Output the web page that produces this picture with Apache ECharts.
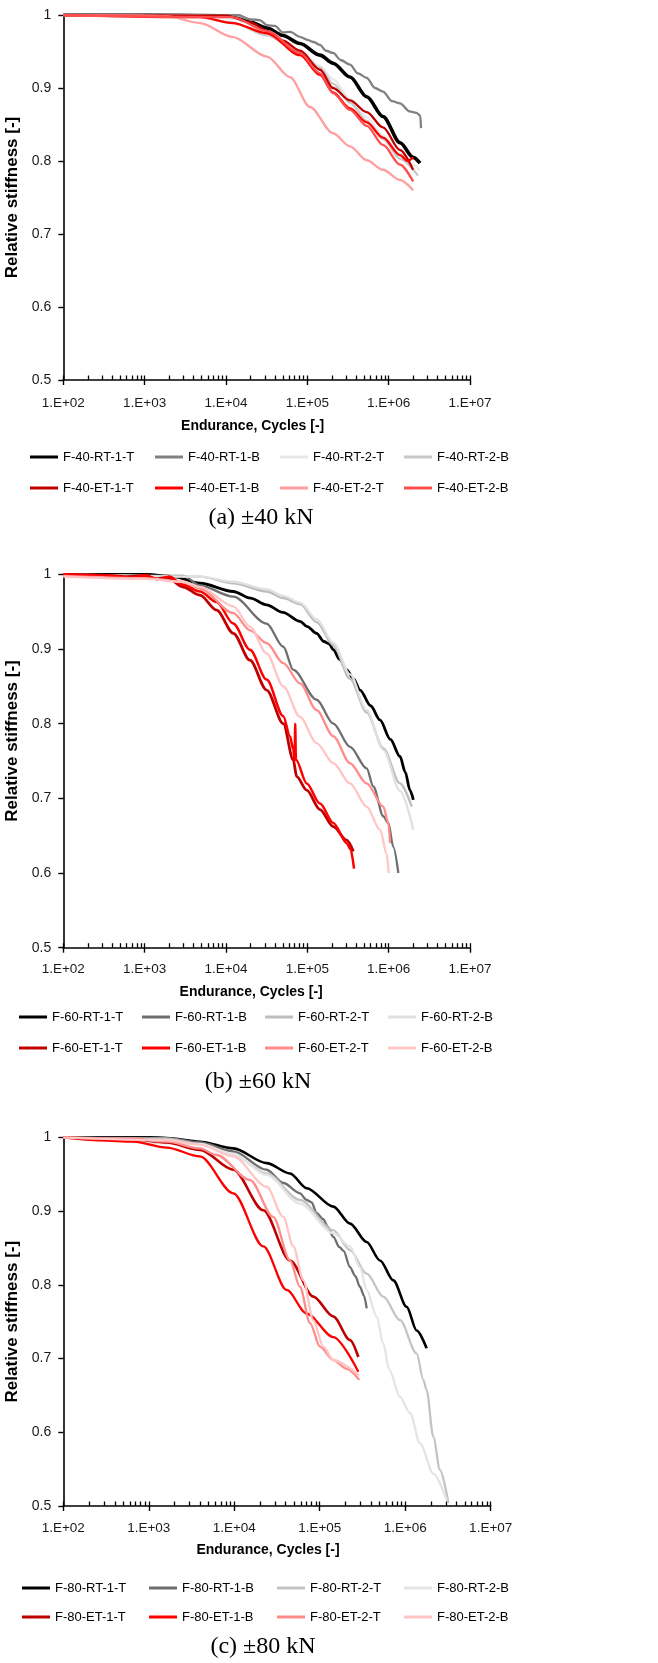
<!DOCTYPE html>
<html>
<head>
<meta charset="utf-8">
<script src="https://cdn.jsdelivr.net/npm/echarts@6/dist/echarts.min.js"></script>
<style>
html, body { margin: 0; padding: 0; background: #ffffff; }
#chart { width: 658px; height: 1663px; }
</style>
</head>
<body>
<div id="chart"></div>
<script>
// ---- axis ticks ----
const xTickValues = [1e2, 1e3, 1e4, 1e5, 1e6, 1e7];
const xTickLabels = ['1.E+02', '1.E+03', '1.E+04', '1.E+05', '1.E+06', '1.E+07'];
const yTickValues = [0.5, 0.6, 0.7, 0.8, 0.9, 1];
const yTickLabels = ['0.5', '0.6', '0.7', '0.8', '0.9', '1'];

// ---- series names ----
const names40 = ['F-40-RT-1-T', 'F-40-RT-1-B', 'F-40-RT-2-T', 'F-40-RT-2-B',
                 'F-40-ET-1-T', 'F-40-ET-1-B', 'F-40-ET-2-T', 'F-40-ET-2-B'];
const names60 = ['F-60-RT-1-T', 'F-60-RT-1-B', 'F-60-RT-2-T', 'F-60-RT-2-B',
                 'F-60-ET-1-T', 'F-60-ET-1-B', 'F-60-ET-2-T', 'F-60-ET-2-B'];
const names80 = ['F-80-RT-1-T', 'F-80-RT-1-B', 'F-80-RT-2-T', 'F-80-RT-2-B',
                 'F-80-ET-1-T', 'F-80-ET-1-B', 'F-80-ET-2-T', 'F-80-ET-2-B'];

// ---- ±40 kN : [cycles, relative stiffness] ----
const f40_RT1T = [[100,1],[1000,1],[8000,0.999],[12000,0.997],[20000,0.99],[32000,0.982],[50000,0.972],[81000,0.961],[143000,0.945],[207000,0.934],[335000,0.915],[537000,0.888],[851000,0.861],[1380000,0.825],[2000000,0.805],[2430000,0.797]];
const f40_RT1B = [[100,1],[14000,1],[20000,0.994],[26000,0.993],[32000,0.986],[40000,0.985],[50000,0.976],[62000,0.977],[81000,0.970],[100000,0.966],[120000,0.963],[143000,0.959],[170000,0.951],[207000,0.948],[260000,0.938],[335000,0.932],[420000,0.920],[537000,0.914],[680000,0.900],[851000,0.895],[1100000,0.882],[1380000,0.879],[1800000,0.868],[2200000,0.866],[2450000,0.862],[2500000,0.845]];
const f40_RT2T = [[100,1],[5000,0.999],[12000,0.995],[32000,0.978],[81000,0.952],[143000,0.93],[207000,0.912],[335000,0.885],[537000,0.86],[851000,0.835],[1380000,0.81],[2000000,0.795],[2400000,0.787]];
const f40_RT2B = [[100,1],[4000,0.998],[12000,0.99],[32000,0.972],[81000,0.948],[143000,0.928],[207000,0.906],[335000,0.88],[537000,0.855],[851000,0.83],[1380000,0.803],[2300000,0.78]];
const f40_ET1T = [[100,1],[10000,0.999],[20000,0.99],[32000,0.978],[50000,0.965],[81000,0.951],[143000,0.925],[207000,0.9],[335000,0.883],[537000,0.867],[851000,0.846],[1380000,0.815],[2000000,0.788]];
const f40_ET1B = [[100,1],[4800,0.997],[12000,0.989],[32000,0.975],[81000,0.945],[143000,0.918],[207000,0.894],[335000,0.872],[537000,0.853],[851000,0.832],[1380000,0.808],[1700000,0.80],[2000000,0.805]];
const f40_ET2T = [[100,1],[1000,0.999],[1900,0.998],[4800,0.989],[12000,0.970],[32000,0.943],[61000,0.915],[108000,0.874],[207000,0.838],[335000,0.820],[537000,0.801],[851000,0.788],[1380000,0.774],[2000000,0.760]];
const f40_ET2B = [[100,1],[12000,0.997],[32000,0.978],[81000,0.948],[143000,0.92],[207000,0.893],[335000,0.87],[537000,0.848],[851000,0.822],[1380000,0.795],[2000000,0.772]];

// ---- ±60 kN ----
const f60_RT1T = [[100,1],[1000,1],[2250,0.997],[4790,0.988],[12300,0.977],[20000,0.968],[31600,0.959],[50000,0.949],[81300,0.937],[100000,0.930],[130000,0.921],[160000,0.910],[185000,0.907],[209000,0.899],[250000,0.886],[305000,0.872],[370000,0.860],[445000,0.845],[600000,0.824],[782000,0.805],[1050000,0.779],[1380000,0.756],[1600000,0.735],[1830000,0.711],[2010000,0.698]];
const f60_RT1B = [[100,1],[2990,0.998],[4790,0.985],[12300,0.970],[31600,0.934],[50700,0.903],[67300,0.872],[130000,0.832],[209000,0.80],[335000,0.769],[537000,0.740],[647000,0.716],[859000,0.676],[991000,0.667],[1140000,0.635],[1315000,0.60]];
const f60_RT2T = [[100,1],[4790,0.997],[12300,0.988],[31600,0.977],[50700,0.968],[81300,0.96],[130000,0.936],[209000,0.905],[335000,0.86],[537000,0.815],[859000,0.767],[1380000,0.72],[1920000,0.689]];
const f60_RT2B = [[100,1],[4790,0.997],[12300,0.99],[31600,0.98],[50700,0.971],[81300,0.962],[130000,0.94],[209000,0.908],[335000,0.866],[537000,0.818],[859000,0.765],[1380000,0.71],[2010000,0.658]];
const f60_ET1T = [[100,1],[300,0.999],[600,0.997],[1000,0.998],[1400,0.994],[1860,0.996],[2990,0.983],[4790,0.972],[7670,0.952],[12300,0.921],[19700,0.885],[31600,0.845],[50700,0.80],[67300,0.751],[74000,0.729],[98200,0.711],[143000,0.685],[209000,0.662],[305000,0.644],[368000,0.629]];
const f60_ET1B = [[100,1],[400,0.998],[700,0.995],[1000,0.999],[1500,0.993],[2000,0.997],[2990,0.986],[4790,0.977],[7670,0.963],[12300,0.934],[19700,0.899],[31600,0.859],[50700,0.81],[61200,0.783],[67300,0.765],[69800,0.75],[71000,0.80],[72300,0.752],[98200,0.72],[143000,0.693],[209000,0.667],[305000,0.64],[340000,0.632],[375000,0.606]];
const f60_ET2T = [[100,0.998],[1000,0.995],[2990,0.99],[4790,0.981],[12300,0.948],[19700,0.925],[31600,0.908],[50700,0.881],[81300,0.854],[130000,0.818],[209000,0.783],[335000,0.747],[537000,0.72],[859000,0.689],[991000,0.667],[1040000,0.64]];
const f60_ET2B = [[100,0.997],[1000,0.994],[2990,0.99],[4790,0.983],[12300,0.957],[19700,0.93],[31600,0.894],[50700,0.85],[81300,0.809],[130000,0.774],[209000,0.747],[335000,0.72],[537000,0.689],[782000,0.658],[950000,0.625],[1000000,0.60]];

// ---- ±80 kN ----
const f80_RT1T = [[100,1],[1020,1],[1620,0.999],[3970,0.994],[9750,0.985],[23900,0.965],[44900,0.951],[70300,0.931],[144000,0.906],[226000,0.883],[354000,0.858],[507000,0.833],[726000,0.806],[1040000,0.770],[1360000,0.738],[1780000,0.714]];
const f80_RT1B = [[100,1],[1620,0.999],[3970,0.993],[9750,0.981],[23900,0.956],[37500,0.938],[58800,0.924],[70000,0.915],[80000,0.912],[92000,0.897],[110000,0.889],[125000,0.878],[144000,0.865],[170000,0.851],[190000,0.846],[226000,0.824],[260000,0.812],[296000,0.797],[330000,0.785],[354000,0.768]];
const f80_RT2T = [[100,1],[1620,0.998],[3970,0.991],[9750,0.976],[23900,0.951],[58800,0.915],[144000,0.874],[226000,0.847],[354000,0.815],[554000,0.784],[869000,0.752],[1360000,0.707],[1630000,0.671],[1780000,0.657],[2130000,0.594],[2550000,0.549],[3200000,0.504]];
const f80_RT2B = [[100,1],[3970,0.991],[9750,0.977],[23900,0.949],[58800,0.91],[144000,0.87],[226000,0.852],[296000,0.824],[354000,0.793],[463000,0.757],[554000,0.72],[650000,0.685],[869000,0.648],[1140000,0.626],[1490000,0.585],[2130000,0.544],[3060000,0.508]];
const f80_ET1T = [[100,1],[659,0.997],[1620,0.993],[3970,0.983],[9750,0.956],[21900,0.901],[44900,0.833],[84100,0.784],[144000,0.757],[226000,0.725],[283000,0.702]];
const f80_ET1B = [[100,1],[269,0.996],[659,0.994],[1620,0.986],[3970,0.974],[9750,0.924],[21900,0.852],[41000,0.793],[70300,0.761],[144000,0.729],[283000,0.682]];
const f80_ET2T = [[100,1],[659,0.998],[1620,0.994],[3970,0.985],[6220,0.976],[15300,0.942],[28600,0.892],[44900,0.833],[58800,0.797],[76900,0.748],[100700,0.716],[144000,0.698],[206500,0.686],[290000,0.671]];
const f80_ET2B = [[100,1],[1620,0.996],[3970,0.990],[9750,0.974],[23900,0.933],[37500,0.892],[49100,0.852],[64300,0.806],[84100,0.752],[110200,0.716],[144000,0.698],[290000,0.677]];

// ---- line colours ----
const colors40 = ['#000000', '#808080', '#e8e8e8', '#c8c8c8', '#c00000', '#ff0000', '#ff9f9f', '#ff4d4d'];
const colors60 = ['#000000', '#6e6e6e', '#bdbdbd', '#e0e0e0', '#c00000', '#ff0000', '#ff8b8b', '#ffc5c5'];
const colors80 = ['#000000', '#6e6e6e', '#c4c4c4', '#e4e4e4', '#c00000', '#ff0000', '#ff8b8b', '#ffc5c5'];

const SANS = '"Liberation Sans", Arial, sans-serif';
const SERIF = '"Liberation Serif", "Times New Roman", serif';

// minor log ticks 2..9 in every decade, drawn inside the plot
const xInnerTicks = [];
for (let i = 0; i < xTickValues.length; i++) {
  xInnerTicks.push(xTickValues[i]);
  if (i < xTickValues.length - 1) {
    for (let k = 2; k <= 9; k++) xInnerTicks.push(xTickValues[i] * k);
  }
}

const panels = [
  {
    names: names40, colors: colors40,
    data: [f40_RT1T, f40_RT1B, f40_RT2T, f40_RT2B, f40_ET1T, f40_ET1B, f40_ET2T, f40_ET2B],
    widths: [3.6, 2.3, 2.3, 2.3, 2.3, 2.3, 2.3, 2.3],
    grid: { left: 63.3, top: 15, width: 406.7, height: 365 },
    labelMargin: 16.5, nameGap: 39.5, namePadRight: 28, yNamePadLeft: 0,
    legendLeft: [30, 155, 280, 404], legendTop: 449, legendGap: 15,
    caption: '(a) \u00b140 kN', capX: 261, capY: 518
  },
  {
    names: names60, colors: colors60,
    data: [f60_RT1T, f60_RT1B, f60_RT2T, f60_RT2B, f60_ET1T, f60_ET1B, f60_ET2T, f60_ET2B],
    widths: [2.8, 2.3, 2.3, 2.3, 2.8, 2.5, 2.3, 2.3],
    grid: { left: 63.3, top: 574.3, width: 406.7, height: 373.4 },
    labelMargin: 15, nameGap: 37, namePadRight: 31, yNamePadLeft: 40,
    legendLeft: [19, 142, 265, 388], legendTop: 1009, legendGap: 15,
    caption: '(b) \u00b160 kN', capX: 258, capY: 1082
  },
  {
    names: names80, colors: colors80,
    data: [f80_RT1T, f80_RT1B, f80_RT2T, f80_RT2B, f80_ET1T, f80_ET1B, f80_ET2T, f80_ET2B],
    widths: [2.6, 2.3, 2.3, 2.3, 2.6, 2.3, 2.3, 2.3],
    grid: { left: 63.3, top: 1137.3, width: 427.4, height: 368.7 },
    labelMargin: 15, nameGap: 37, namePadRight: 18, yNamePadLeft: 0,
    legendLeft: [22, 149, 277, 404], legendTop: 1580, legendGap: 13,
    caption: '(c) \u00b180 kN', capX: 263, capY: 1647
  }
];

function xLabel(v) {
  const lv = Math.log10(v);
  for (let i = 0; i < xTickValues.length; i++) {
    if (Math.abs(Math.log10(xTickValues[i]) - lv) < 1e-6) return xTickLabels[i];
  }
  return '';
}
function yLabel(v) {
  for (let i = 0; i < yTickValues.length; i++) {
    if (Math.abs(yTickValues[i] - v) < 1e-6) return yTickLabels[i];
  }
  return '';
}

const option = {
  animation: false,
  backgroundColor: '#ffffff',
  grid: [], xAxis: [], yAxis: [], series: [], legend: [], graphic: []
};

panels.forEach(function (p, i) {
  option.grid.push(Object.assign({ containLabel: false, outerBoundsMode: 'none' }, p.grid));

  // main x axis: line, labels, outward major ticks
  option.xAxis.push({
    type: 'log', logBase: 10, gridIndex: i, min: 1e2, max: 1e7, position: 'bottom',
    axisLine: { show: true, onZero: false, lineStyle: { color: '#000', width: 1.6 } },
    axisTick: { show: true, inside: false, length: 5, customValues: xTickValues,
                lineStyle: { color: '#000', width: 1.4 } },
    axisLabel: { show: true, customValues: xTickValues, formatter: xLabel, margin: p.labelMargin,
                 color: '#1a1a1a', fontSize: 13.5, fontFamily: SANS },
    splitLine: { show: false }, minorTick: { show: false }, minorSplitLine: { show: false },
    name: 'Endurance, Cycles [-]', nameLocation: 'middle', nameGap: p.nameGap,
    nameTextStyle: { color: '#000', fontSize: 14, fontWeight: 'bold', fontFamily: SANS,
                     padding: [0, p.namePadRight, 0, 0] }
  });
  // companion x axis: inward ticks at every decade and its 2..9 subdivisions
  option.xAxis.push({
    type: 'log', logBase: 10, gridIndex: i, min: 1e2, max: 1e7, position: 'bottom',
    axisLine: { show: false },
    axisTick: { show: true, inside: true, length: 4.5, customValues: xInnerTicks,
                lineStyle: { color: '#000', width: 1.3 } },
    axisLabel: { show: false },
    splitLine: { show: false }
  });

  option.yAxis.push({
    type: 'value', gridIndex: i, min: 0.5, max: 1, interval: 0.1,
    axisLine: { show: true, lineStyle: { color: '#000', width: 1.6 } },
    axisTick: { show: true, inside: false, length: 5, lineStyle: { color: '#000', width: 1.4 } },
    axisLabel: { formatter: yLabel, margin: 12, color: '#1a1a1a', fontSize: 14, fontFamily: SANS },
    splitLine: { show: false },
    name: 'Relative stiffness [-]', nameLocation: 'middle', nameGap: 32,
    nameTextStyle: { color: '#000', fontSize: 17, fontWeight: 'bold', fontFamily: SANS,
                     padding: [0, 0, 0, p.yNamePadLeft] }
  });

  p.names.forEach(function (name, k) {
    option.series.push({
      type: 'line', name: name, xAxisIndex: 2 * i, yAxisIndex: i,
      data: p.data[k], showSymbol: false, symbol: 'none',
      smooth: 0.3, smoothMonotone: 'x',
      color: p.colors[k],
      itemStyle: { color: p.colors[k] },
      lineStyle: { color: p.colors[k], width: p.widths[k] },
      emphasis: { disabled: true },
      silent: true
    });
  });

  for (let c = 0; c < 4; c++) {
    option.legend.push({
      orient: 'vertical', left: p.legendLeft[c], top: p.legendTop, padding: 0,
      itemWidth: 28, itemHeight: 3, itemGap: p.legendGap, icon: 'rect',
      selectedMode: false,
      data: [p.names[c], p.names[c + 4]],
      textStyle: { color: '#000', fontSize: 13, fontFamily: SANS, lineHeight: 16 }
    });
  }

  option.graphic.push({
    type: 'text', x: p.capX, y: p.capY,
    style: { text: p.caption, fill: '#000', font: '24px ' + SERIF,
             align: 'center', verticalAlign: 'middle' }
  });
});

const chart = echarts.init(document.getElementById('chart'), null, { renderer: 'canvas' });
chart.setOption(option);
</script>
</body>
</html>
